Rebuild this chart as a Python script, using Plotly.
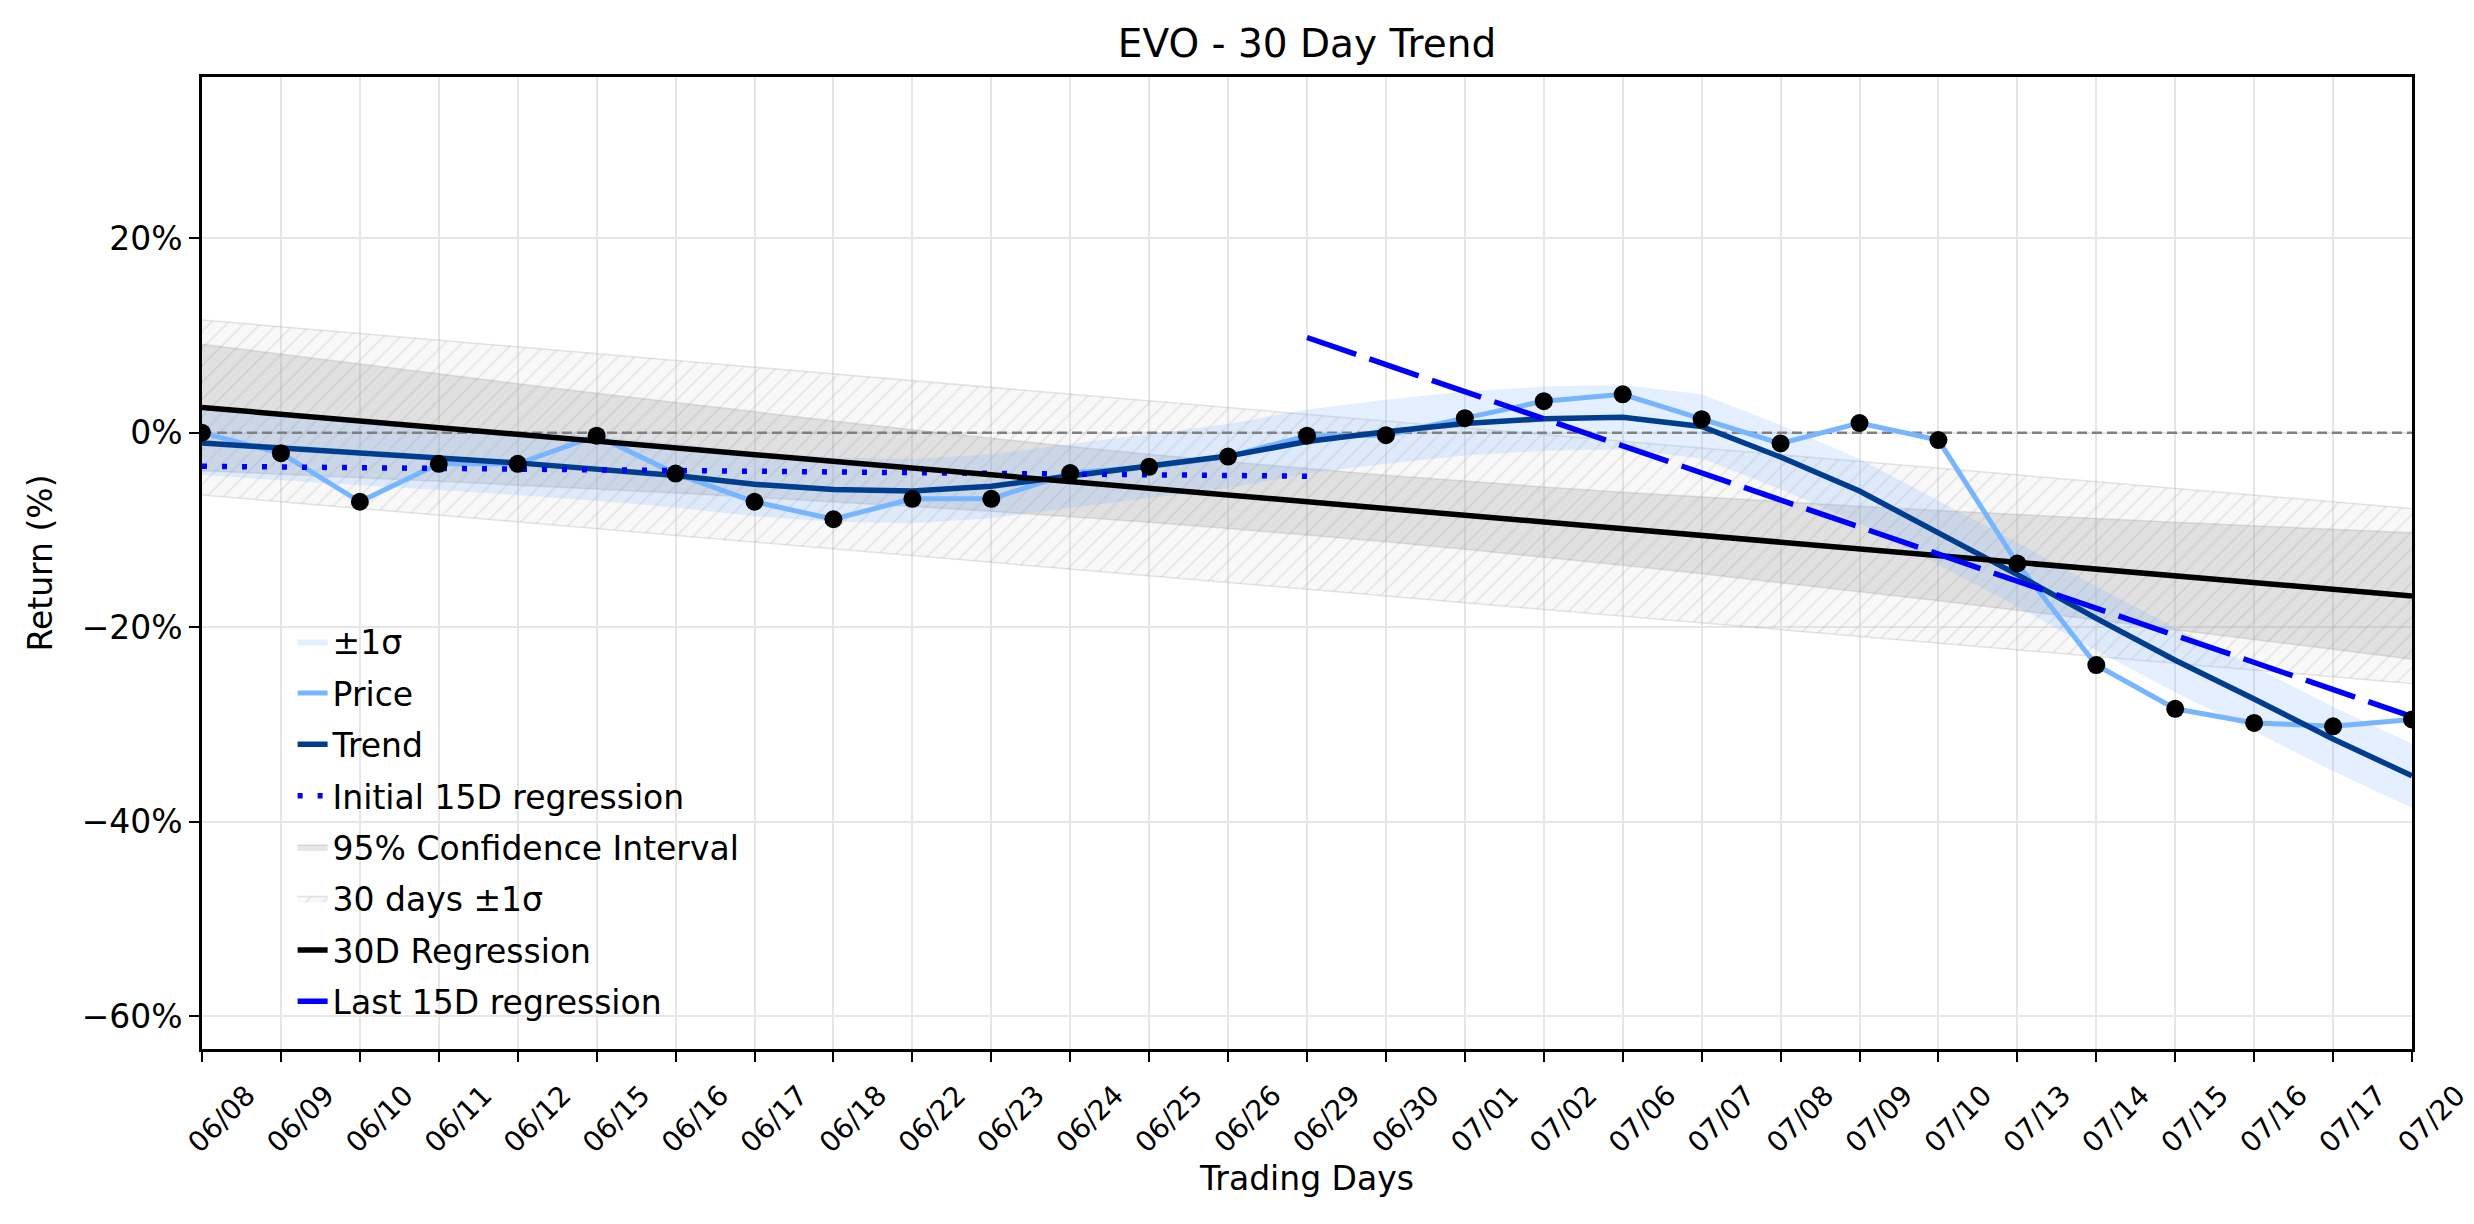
import plotly.graph_objects as go

# ---------------- data ----------------
dates = ["06/08", "06/09", "06/10", "06/11", "06/12", "06/15", "06/16", "06/17",
         "06/18", "06/22", "06/23", "06/24", "06/25", "06/26", "06/29", "06/30",
         "07/01", "07/02", "07/06", "07/07", "07/08", "07/09", "07/10", "07/13",
         "07/14", "07/15", "07/16", "07/17", "07/20"]

price = [0.0, -2.1, -7.1, -3.2, -3.2, -0.3, -4.2, -7.1, -8.9, -6.8, -6.8, -4.15,
         -3.5, -2.45, -0.3, -0.25, 1.5, 3.25, 3.95, 1.4, -1.1, 1.0, -0.75, -13.45,
         -23.9, -28.4, -29.85, -30.2, -29.5]

trend = [-1.05, -1.6, -2.1, -2.6, -3.1, -3.7, -4.4, -5.3, -5.85, -6.0, -5.5, -4.45,
         -3.45, -2.4, -0.9, 0.1, 0.95, 1.45, 1.6, 0.65, -2.5, -6.0, -10.3, -14.6,
         -19.1, -23.4, -27.4, -31.5, -35.3]
trend_sigma = 3.3

reg30 = [2.60, 1.91, 1.21, 0.52, -0.17, -0.86, -1.56, -2.25, -2.94, -3.64, -4.33,
         -5.02, -5.71, -6.41, -7.10, -7.79, -8.49, -9.18, -9.87, -10.56, -11.26,
         -11.95, -12.64, -13.34, -14.03, -14.72, -15.41, -16.11, -16.80]
ci_half = [6.50, 6.16, 5.84, 5.52, 5.22, 4.92, 4.65, 4.39, 4.15, 3.94, 3.75, 3.61,
           3.50, 3.43, 3.41, 3.43, 3.50, 3.61, 3.75, 3.94, 4.15, 4.39, 4.65, 4.92,
           5.22, 5.52, 5.84, 6.16, 6.50]
sigma30 = 9.0

init15_x = [0, 14]
init15_y = [-3.45, -4.47]
last15_x = [14, 28]
last15_y = [9.8, -29.2]

y_ticks = [20, 0, -20, -40, -60]
y_ticktext = ["20%", "0%", "\u221220%", "\u221240%", "\u221260%"]

# ---------------- figure ----------------
x = list(range(len(dates)))
FONT = "DejaVu Sans"

fig = go.Figure()

# 30 days +-1 sigma (hatched)
fig.add_trace(go.Scatter(x=x, y=[r - sigma30 for r in reg30], mode="lines",
                         line=dict(width=1.5, color="rgba(150,150,150,0.25)"),
                         showlegend=False, hoverinfo="skip", legendgroup="g6"))
fig.add_trace(go.Scatter(x=x, y=[r + sigma30 for r in reg30], mode="lines",
                         line=dict(width=1.5, color="rgba(150,150,150,0.25)"),
                         fill="tonexty", fillcolor="rgba(210,210,210,0.15)",
                         fillpattern=dict(shape="/", size=12, solidity=0.15,
                                          fgcolor="rgba(150,150,150,0.38)",
                                          bgcolor="rgba(210,210,210,0.17)"),
                         name="30 days \u00b11\u03c3", legendrank=6, legendgroup="g6"))

# 95% CI
fig.add_trace(go.Scatter(x=x, y=[r - h for r, h in zip(reg30, ci_half)], mode="lines",
                         line=dict(width=1.5, color="rgba(128,128,128,0.2)"),
                         showlegend=False, hoverinfo="skip", legendgroup="g5"))
fig.add_trace(go.Scatter(x=x, y=[r + h for r, h in zip(reg30, ci_half)], mode="lines",
                         line=dict(width=1.5, color="rgba(128,128,128,0.2)"),
                         fill="tonexty", fillcolor="rgba(128,128,128,0.2)",
                         name="95% Confidence Interval", legendrank=5, legendgroup="g5"))

# trend +-1 sigma
fig.add_trace(go.Scatter(x=x, y=[t - trend_sigma for t in trend], mode="lines",
                         line=dict(width=0), showlegend=False, hoverinfo="skip",
                         legendgroup="g1"))
fig.add_trace(go.Scatter(x=x, y=[t + trend_sigma for t in trend], mode="lines",
                         line=dict(width=0), fill="tonexty",
                         fillcolor="rgba(119,181,254,0.2)",
                         name="\u00b11\u03c3", legendrank=1, legendgroup="g1"))

# zero line
fig.add_trace(go.Scatter(x=[x[0], x[-1]], y=[0, 0], mode="lines",
                         line=dict(color="#808080", width=2.5, dash="10px,5px"),
                         showlegend=False, hoverinfo="skip", legendgroup="g0"))

# price
fig.add_trace(go.Scatter(x=x, y=price, mode="lines",
                         line=dict(color="#77b5fe", width=5),
                         name="Price", legendrank=2, legendgroup="g2"))
# trend
fig.add_trace(go.Scatter(x=x, y=trend, mode="lines",
                         line=dict(color="#003d8f", width=5.5),
                         name="Trend", legendrank=3, legendgroup="g3"))
# initial 15D regression
fig.add_trace(go.Scatter(x=init15_x, y=init15_y, mode="lines",
                         line=dict(color="#0000ff", width=5.5, dash="5px,15px"),
                         name="Initial 15D regression", legendrank=4, legendgroup="g4"))
# 30D regression
fig.add_trace(go.Scatter(x=[x[0], x[-1]], y=[reg30[0], reg30[-1]], mode="lines",
                         line=dict(color="#000000", width=5.5),
                         name="30D Regression", legendrank=7, legendgroup="g7"))
# last 15D regression
fig.add_trace(go.Scatter(x=last15_x, y=last15_y, mode="lines",
                         line=dict(color="#0000ff", width=5.5, dash="52px,14px"),
                         name="Last 15D regression", legendrank=8, legendgroup="g8"))
# price markers
fig.add_trace(go.Scatter(x=x, y=price, mode="markers",
                         marker=dict(color="black", size=18),
                         showlegend=False, hoverinfo="skip", legendgroup="g9"))

fig.update_layout(
    width=2474, height=1224,
    margin=dict(l=202, r=62, t=77, b=175),
    paper_bgcolor="white", plot_bgcolor="white",
    font=dict(family=FONT, size=33, color="black"),
    title=dict(text="EVO - 30 Day Trend", font=dict(size=39, family=FONT),
               x=0.5, xref="paper", xanchor="center",
               y=1 - 43 / 1224, yref="container", yanchor="middle"),
    showlegend=True,
    legend=dict(x=0.041, y=0.448, xanchor="left", yanchor="top",
                bgcolor="rgba(0,0,0,0)", font=dict(size=33, family=FONT),
                tracegroupgap=5.5, traceorder="grouped"),
)

fig.update_xaxes(range=[0, 28], tickmode="array", tickvals=x, ticktext=dates,
                 tickangle=-45, tickfont=dict(size=28, family=FONT),
                 ticklabelshift=45, ticklabelstandoff=6, automargin=False,
                 ticks="outside", ticklen=10, tickwidth=2, tickcolor="black",
                 showline=True, linecolor="black", linewidth=2.5, mirror=True,
                 showgrid=True, gridcolor="#e6e6e6", gridwidth=2.2, zeroline=False,
                 title=dict(text="Trading Days", font=dict(size=33, family=FONT), standoff=6))
fig.update_yaxes(range=[-63.4, 36.6], tickmode="array", tickvals=y_ticks,
                 ticktext=y_ticktext, tickfont=dict(size=33, family=FONT),
                 automargin=False,
                 ticks="outside", ticklen=10, tickwidth=2, tickcolor="black",
                 showline=True, linecolor="black", linewidth=2.5, mirror=True,
                 showgrid=True, gridcolor="#e6e6e6", gridwidth=2.2, zeroline=False,
                 title=dict(text="Return (%)", font=dict(size=33, family=FONT), standoff=20))

fig.write_html("out.html")
